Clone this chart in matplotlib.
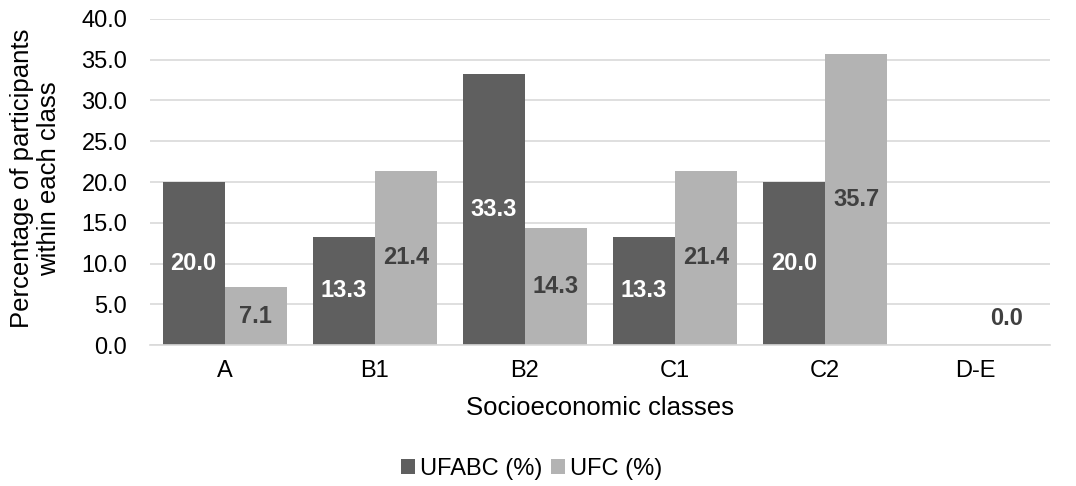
import matplotlib.pyplot as plt
import numpy as np

plt.rcParams['font.family'] = ['Liberation Sans', 'DejaVu Sans']

# Socioeconomic class shares (%)
classes = ['A', 'B1', 'B2', 'C1', 'C2', 'D-E']
ufabc = [20.0, 13.3, 33.3, 13.3, 20.0, 0.0]
ufc = [7.1, 21.4, 14.3, 21.4, 35.7, 0.0]

dark = '#5f5f5f'
light = '#b3b3b3'

fig = plt.figure(figsize=(10.76, 4.86), dpi=100)
ax = fig.add_axes([0.139, 0.29, 0.837, 0.671])

x = np.arange(len(classes))
w = 0.413
b1 = ax.bar(x - w / 2, ufabc, w, color=dark, label='UFABC (%)', zorder=2)
b2 = ax.bar(x + w / 2, ufc, w, color=light, label='UFC (%)', zorder=2)

# value labels centred inside the bars
for xi, v in zip(x - w / 2, ufabc):
    if v > 0:
        ax.text(xi, v / 2, f'{v:.1f}', ha='center', va='center',
                color='white', fontsize=17, fontweight='bold', zorder=3)
for xi, v in zip(x + w / 2, ufc):
    ax.text(xi, max(v / 2, 3.3), f'{v:.1f}', ha='center', va='center',
            color='#404040', fontsize=17, fontweight='bold', zorder=3)

ax.set_xlim(-0.5, len(classes) - 0.5)
ax.set_ylim(0, 40)
ax.set_yticks(np.arange(0, 40.1, 5))
ax.set_yticklabels([f'{t:.1f}' for t in np.arange(0, 40.1, 5)])
ax.set_xticks(x)
ax.set_xticklabels(classes)
ax.tick_params(axis='both', length=0, labelsize=17, colors='#000000')
ax.tick_params(axis='y', pad=16)
ax.tick_params(axis='x', pad=11)
ax.grid(axis='y', color='#d9d9d9', linewidth=1.2, zorder=0)
for s in ['top', 'right', 'left']:
    ax.spines[s].set_visible(False)
ax.spines['bottom'].set_color('#d9d9d9')
ax.spines['bottom'].set_linewidth(1.2)

ax.set_ylabel('Percentage of participants\nwithin each class', fontsize=18.5, linespacing=1.15)
ax.yaxis.set_label_coords(-0.098, 0.51)
ax.set_xlabel('Socioeconomic classes', fontsize=18.5, labelpad=10)

fig.legend(handles=[b1, b2], loc='center', bbox_to_anchor=(0.494, 0.035), ncol=2,
           frameon=False, fontsize=17, handlelength=0.6, handleheight=0.6,
           handletextpad=0.2, columnspacing=0.4)

fig.savefig('out.png', dpi=100)
